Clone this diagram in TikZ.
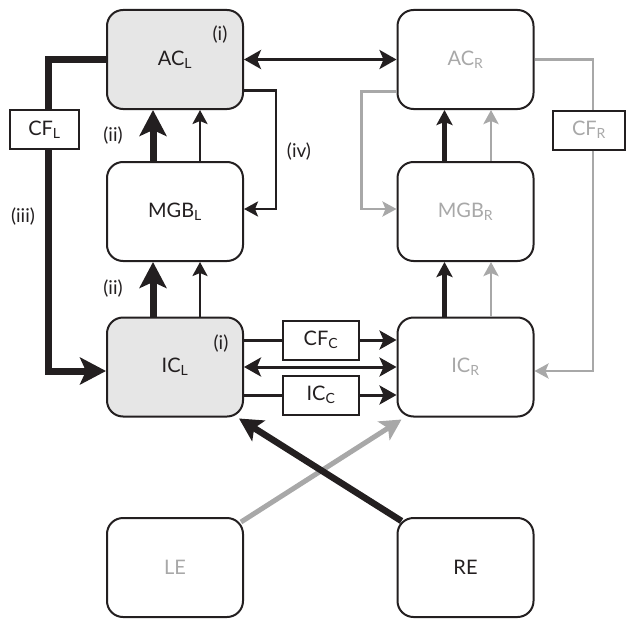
\documentclass[tikz,border=0pt]{standalone}
\usepackage{fontspec}
\setmainfont{Lato}
\usetikzlibrary{arrows.meta}
\definecolor{ink}{RGB}{35,31,32}
\definecolor{faint}{RGB}{168,168,168}
\definecolor{shade}{RGB}{230,230,230}

\begin{document}
\begin{tikzpicture}[x=1pt,y=-1pt,line join=miter]
    \tikzstyle{area}=[draw=ink, line width=2pt, rounded corners=16pt, minimum width=136pt, minimum height=99pt, inner sep=0pt, fill=white, text=ink, font=\fontsize{20}{22}\selectfont]
    \tikzstyle{lit}=[area, fill=shade]
    \tikzstyle{off}=[area, text=faint]
    \tikzstyle{tag}=[draw=ink, line width=2pt, minimum height=39pt, inner sep=0pt, fill=white, text=ink, font=\fontsize{20}{22}\selectfont]
    \tikzstyle{note}=[text=ink, inner sep=0pt, font=\fontsize{19}{20}\selectfont]
    \tikzstyle{heavyline}=[draw=ink, line width=7pt]
    \tikzstyle{heavy}=[heavyline, -{Stealth[length=26pt,width=27pt,inset=6pt]}]
    \tikzstyle{slant}=[draw=ink, line width=6.5pt, -{Stealth[length=23pt,width=24pt,inset=5pt]}]
    \tikzstyle{greyslant}=[draw=faint, line width=5pt, -{Stealth[length=21pt,width=22pt,inset=5pt]}]
    \tikzstyle{midline}=[draw=ink, line width=3pt]
    \tikzstyle{mid}=[midline, -{Stealth[length=17pt,width=19pt,inset=4pt]}]
    \tikzstyle{midboth}=[midline, {Stealth[length=17pt,width=19pt,inset=4pt]}-{Stealth[length=17pt,width=19pt,inset=4pt]}]
    \tikzstyle{medium}=[draw=ink, line width=5pt, -{Stealth[length=15pt,width=16pt,inset=3pt]}]
    \tikzstyle{light}=[draw=ink, line width=2.6pt, -{Stealth[length=14pt,width=15pt,inset=3pt]}]
    \tikzstyle{greylight}=[draw=faint, line width=2.8pt, -{Stealth[length=14pt,width=15pt,inset=3pt]}]

    % left column
    \node[lit] (acl)  at (175,59.5)  {AC\textsubscript{L}};
    \node[area] (mgbl) at (175,211.5) {MGB\textsubscript{L}};
    \node[lit] (icl)  at (175,367)   {IC\textsubscript{L}};
    \node[off] (le)   at (175,567.5) {LE};
    % right column
    \node[off] (acr)  at (465.5,59.5)  {AC\textsubscript{R}};
    \node[off] (mgbr) at (465.5,211.5) {MGB\textsubscript{R}};
    \node[off] (icr)  at (465.5,367)   {IC\textsubscript{R}};
    \node[area] (re)  at (465.5,567.5) {RE};
    % small boxes
    \node[tag, minimum width=69pt] (cfl) at (44.5,129.5) {CF\textsubscript{L}};
    \node[tag, minimum width=72pt, text=faint] (cfr) at (589,130) {CF\textsubscript{R}};
    \node[tag, minimum width=76pt] (cfc) at (321,340) {CF\textsubscript{C}};
    \node[tag, minimum width=76pt] (icc) at (321,395) {IC\textsubscript{C}};

    \node[note] (ia)   at (220,35)  {(i)};
    \node[note] (ib)   at (221,344) {(i)};
    \node[note] (iia)  at (113,136) {(ii)};
    \node[note] (iib)  at (113,289) {(ii)};
    \node[note] (iii)  at (23,217)  {(iii)};
    \node[note] (iv)   at (299,152) {(iv)};

    % left side
    \draw[heavyline] (acl.west) -| ([xshift=3.5pt]cfl.north);
    \draw[heavy] ([xshift=3.5pt]cfl.south) |- ([yshift=-4pt]icl.west);
    \draw[light] ([yshift=-31pt]acl.east) -- ++(32,0) |- ([yshift=2.5pt]mgbl.east);
    \path
     ([xshift=-22pt]mgbl.north) edge[heavy] ([xshift=-22pt]acl.south)
     ([xshift=25pt]mgbl.north)  edge[light] ([xshift=25pt]acl.south)
     ([xshift=-22pt]icl.north)  edge[heavy] ([xshift=-22pt]mgbl.south)
     ([xshift=25pt]icl.north)   edge[light] ([xshift=25pt]mgbl.south)
     ;
    % across
    \path
     (acl) edge[midboth] (acr)
     (icl) edge[midboth] (icr)
     (cfc.west -| icl.east) edge[midline] (cfc.west)
     (cfc.east) edge[mid] (cfc.east -| icr.west)
     (icc.west -| icl.east) edge[midline] (icc.west)
     (icc.east) edge[mid] (icc.east -| icr.west)
     ;
    % right side
    \draw[greylight] ([yshift=-32pt]acr.west) -- ++(-35,0) |- ([yshift=2.5pt]mgbr.west);
    \draw[draw=faint, line width=2.8pt] (acr.east) -| ([xshift=4pt]cfr.north);
    \draw[greylight] ([xshift=4pt]cfr.south) |- ([yshift=-4pt]icr.east);
    \path
     ([xshift=-21pt]mgbr.north) edge[medium] ([xshift=-21pt]acr.south)
     ([xshift=25.5pt]mgbr.north) edge[greylight] ([xshift=25.5pt]acr.south)
     ([xshift=-21pt]icr.north)  edge[medium] ([xshift=-21pt]mgbr.south)
     ([xshift=25.5pt]icr.north)  edge[greylight] ([xshift=25.5pt]mgbr.south)
     ;
    % eyes
    \path
     ([xshift=-3pt,yshift=-5pt]le.north east) edge[greyslant] ([xshift=5pt,yshift=-2pt]icr.south west)
     ([xshift=5pt,yshift=-4pt]re.north west) edge[slant] ([xshift=-5pt,yshift=-1pt]icl.south east)
     ;
    \useasboundingbox (0,0) rectangle (626,618);
\end{tikzpicture}
\end{document}
